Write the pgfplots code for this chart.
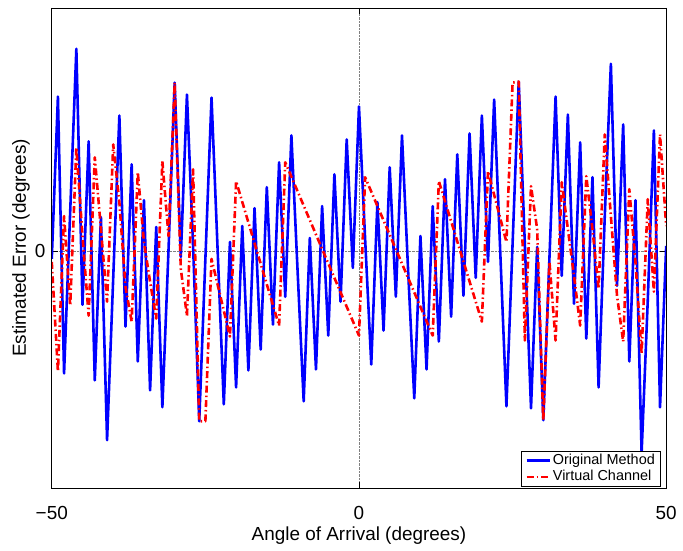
\documentclass[border=0pt]{standalone}
\usepackage{pgfplots}
\pgfplotsset{compat=1.18}
\usepackage{fontspec}
\setmainfont{Liberation Sans}
\pgfplotstableread{
x y
-50 -8
-49 155
-48 -123
-47 40
-46 203
-45 -54
-44 110
-43 -130
-42 34
-41 -190
-40 -27
-39 136
-38 -76
-37 87
-36 -111
-35 51
-34 -140
-33 24
-32 -157
-31 1
-30 169
-29 -6
-28 157
-27 5
-26 -171
-25 -8
-24 154
-23 0
-22 -154
-21 9
-20 -137
-19 25
-18 -120
-17 43
-16 -99
-15 64
-14 -74
-13 89
-12 -46
-11 116
-10 -19
-9 -151
-8 13
-7 -119
-6 45
-5 -85
-4 77
-3 -51
-2 112
-1 -17
0 145
1 12
2 -114
3 49
4 -80
5 84
6 -46
7 116
8 -20
9 -148
10 15
11 -119
12 45
13 -91
14 72
15 -66
16 97
17 -45
18 118
19 -27
20 136
21 -11
22 152
23 -2
24 -156
25 7
26 170
27 6
28 -158
29 4
30 -170
31 -7
32 155
33 -25
34 137
35 -53
36 109
37 -88
38 74
39 -137
40 34
41 188
42 -35
43 127
44 -111
45 51
46 -203
47 -50
48 121
49 -157
50 5
}\orig
\pgfplotstableread{
x y
-50 -11
-49 -121
-48 35
-47 -55
-46 104
-45 15
-44 -65
-43 94
-42 22
-41 -51
-40 107
-39 49
-38 -36
-37 -71
-36 79
-35 9
-34 -31
-33 -68
-32 90
-31 15
-30 169
-29 -18
-28 -65
-27 82
-26 -171
-25 -171
-24 -8
-21 -86
-20 70
-13 -75
-12 89
0 -85
1 74
12 -85
13 70
20 -71
21 80
24 9
25 169
26 170
27 -90
28 65
29 22
30 -170
31 -11
32 -90
33 69
34 22
35 -25
36 -75
37 75
38 22
39 -38
40 117
41 35
42 -45
43 -91
44 62
45 -11
46 -103
47 52
48 -41
49 117
50 25
}\virt
\begin{document}
\fontsize{19bp}{22bp}\selectfont
\begin{tikzpicture}
\begin{axis}[
  width=617bp, height=482bp, scale only axis,
  xmin=-50, xmax=50, ymin=-238, ymax=244,
  xtick={-50,0,50}, xticklabels={−50,0,50},
  ytick={0}, yticklabels={0},
  tick align=inside, major tick length=6bp,
  tick style={black, line width=0.7bp},
  grid=major, grid style={densely dotted, gray, line width=0.7bp},
  axis line style={line width=0.8bp},
  xlabel={Angle of Arrival (degrees)},
  ylabel={Estimated Error (degrees)},
  xticklabel style={yshift=-12bp},
  xlabel style={yshift=6bp},
  ylabel style={yshift=-8bp},
  legend style={at={(rel axis cs:1,0)}, anchor=south east, xshift=-5bp, yshift=1bp,
    font=\fontsize{14.5bp}{16bp}\selectfont, draw=black, line width=0.8bp,
    inner xsep=4bp, inner ysep=1bp, row sep=-1bp, cells={anchor=west}},
  legend image code/.code={\draw[#1] (0bp,0bp) -- (23bp,0bp);},
]
\coordinate (sw) at (rel axis cs:0,0);
\coordinate (ne) at (rel axis cs:1,1);
\addplot[blue, line width=2.6bp, line join=round] table {\orig};
\addlegendentry{Original Method}
\addplot[red, line width=2.6bp, line join=round, dash pattern=on 7bp off 3bp on 1.5bp off 3bp] table {\virt};
\addlegendentry{Virtual Channel}
\end{axis}
\path ([shift={(-52bp,-56bp)}]sw) rectangle ([shift={(14bp,8bp)}]ne);
\end{tikzpicture}
\end{document}
